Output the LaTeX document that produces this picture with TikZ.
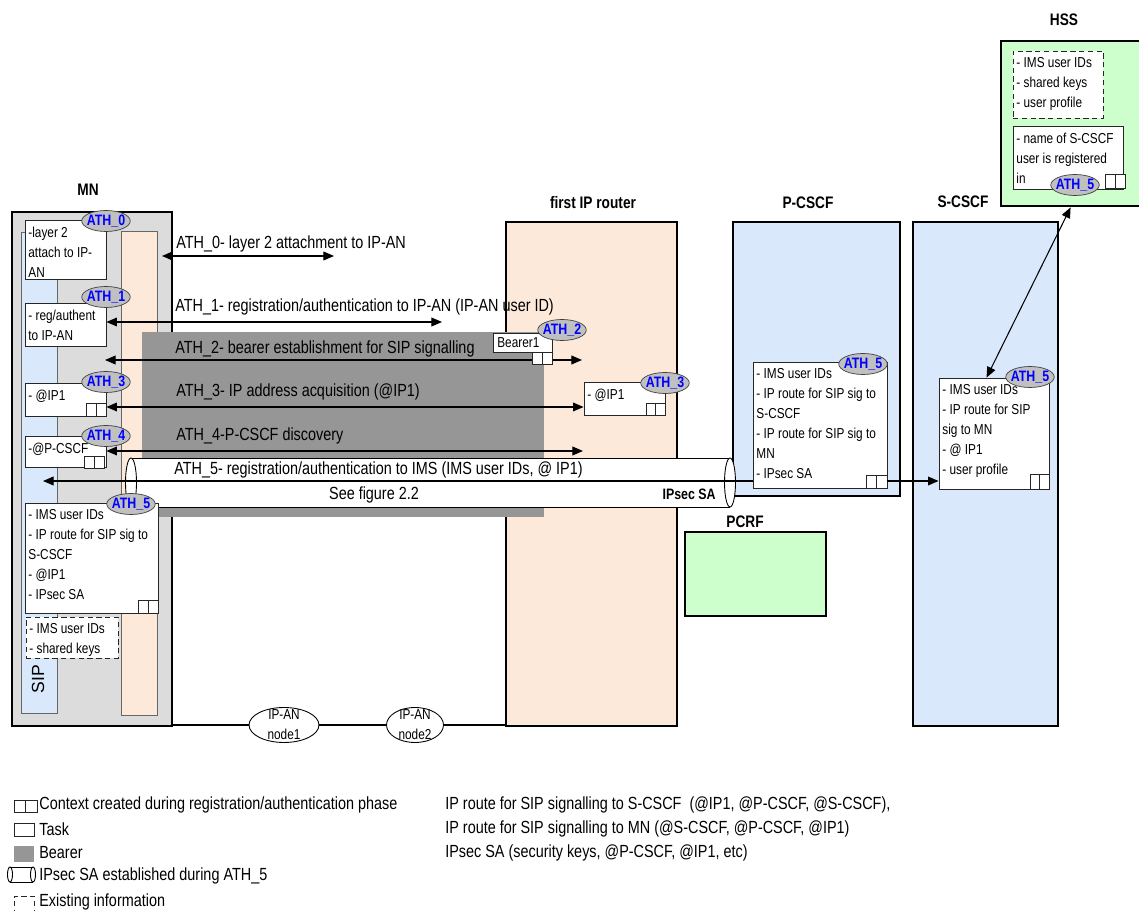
\documentclass[tikz,border=0pt]{standalone}
\usepackage{fontspec}
\setmainfont[FakeStretch=0.82]{Liberation Sans}
\newfontfamily\plainsans{Liberation Sans}
\usetikzlibrary{arrows.meta, positioning, shapes.geometric, fit, calc}
\definecolor{mngray}{HTML}{DCDCDC}
\definecolor{peach}{HTML}{FDE9D9}
\definecolor{imsblue}{HTML}{DAE8FC}
\definecolor{hssgreen}{HTML}{CCFFCC}
\definecolor{bearergray}{HTML}{969696}
\definecolor{athgray}{HTML}{C0C0C0}
\newcommand{\txtsmall}{\fontsize{8.2}{11.3}\selectfont}
\newcommand{\txtflow}{\fontsize{10}{12}\selectfont}
\newcommand{\txthead}{\fontsize{9.5}{11}\selectfont\bfseries}
\newcommand{\txtath}{\fontsize{8.6}{9}\selectfont\bfseries}
\newcommand{\txtsip}{\plainsans\fontsize{10}{12}\selectfont}

\begin{document}
\begin{tikzpicture}[
    x=0.02cm, y=-0.02cm,
    entity/.style={draw=black, line width=1.6pt, inner sep=0pt},
    stripe/.style={draw=black!60, line width=0.4pt, inner sep=0pt},
    heading/.style={font=\txthead, inner sep=0pt},
    task/.style={draw=black!85, fill=white, line width=0.5pt, inner sep=0pt},
    existing/.style={task, dash pattern=on 3pt off 2pt},
    boxtext/.style={font=\txtsmall, align=left, anchor=north west, inner xsep=2pt, inner ysep=4pt},
    ctx/.style={draw=black!85, fill=white, line width=0.5pt, inner sep=0pt,
        path picture={\draw[black!85, line width=0.5pt] (path picture bounding box.north) -- (path picture bounding box.south);}},
    ath/.style={ellipse, draw=black!75, fill=athgray, text=blue, font=\txtath,
        inner xsep=-1.5pt, inner ysep=-1pt, minimum width=0.97cm, minimum height=0.42cm},
    flowlabel/.style={font=\txtflow, anchor=west, inner sep=0pt},
    flow/.style={line width=0.6pt, -{Triangle[length=6pt, width=5pt]}},
    biflow/.style={line width=0.6pt, {Triangle[length=6pt, width=5pt]}-{Triangle[length=6pt, width=5pt]}},
    ipan/.style={ellipse, draw, fill=white, line width=0.5pt, font=\txtsmall, align=center,
        inner sep=-4pt, minimum height=0.7cm}
]
\useasboundingbox (0,0) rectangle (1139,911);

% entities
\node[entity, fill=mngray, fit={(12,212) (172,726)}] (mn) {};
\node[entity, fill=peach, fit={(506,222) (677,726)}] (rt) {};
\node[entity, fill=imsblue, fit={(733,222) (900,496)}] (pcscf) {};
\node[entity, fill=imsblue, fit={(913,222) (1058,726)}] (scscf) {};
\node[entity, fill=hssgreen, fit={(1001,41) (1170,206)}] (hss) {};
\node[entity, fill=hssgreen, fit={(685,532) (826,616)}] (pcrf) {};

\node[heading] (mnlbl) at (88,190) {MN};
\node[heading] (rtlbl) at (593,203) {first IP router};
\node[heading] (pcscflbl) at (808,203) {P-CSCF};
\node[heading] (scscflbl) at (963,202) {S-CSCF};
\node[heading] (hsslbl) at (1064,20) {HSS};
\node[heading] (pcrflbl) at (745,522) {PCRF};

\node[stripe, fill=imsblue, fit={(21,232) (57,713)}] (sip) {};
\node[stripe, fill=peach, fit={(121,231) (157,715)}] (mnip) {};
\node[rotate=90, font=\txtsip] (siplbl) at (38,679) {SIP};

% bearer and IPsec SA
\node[fill=bearergray, inner sep=0pt, fit={(142,332) (544,517)}] (bearer) {};
\fill[white] (131,458) rectangle (730,507);
\draw[line width=0.5pt] (131,458) -- (730,458) (131,507) -- (730,507);
\draw[line width=0.5pt, fill=white] (131,482.5) ellipse [x radius=5.5, y radius=24.5];
\draw[line width=0.5pt, fill=white] (730,482.5) ellipse [x radius=5.5, y radius=24.5];

\coordinate (a2l) at (105,360);
\coordinate (a2r) at (582,360);
\draw[biflow] (a2l) -- (a2r);
\node[flowlabel] (a2txt) at (175,349) {ATH\_2- bearer establishment for SIP signalling};

% MN tasks
\node[task, fit={(25,220) (106,279)}] (mnt0) {};
\node[boxtext] (mnt0txt) at (mnt0.north west) {-layer 2\\attach to IP-\\AN};
\node[ath] (mnt0lbl) at (106,221) {ATH\_0};

\node[task, fit={(25,303) (106,346)}] (mnt1) {};
\node[boxtext] (mnt1txt) at (mnt1.north west) {- reg/authent\\to IP-AN};
\node[ath] (mnt1lbl) at (106,297) {ATH\_1};

\node[task, fit={(25,383) (106,416)}] (mnt3) {};
\node[boxtext] (mnt3txt) at (mnt3.north west) {- @IP1};
\node[ctx, fit={(86,403) (106,416)}] (mnt3ctx) {};
\node[ath] (mnt3lbl) at (106,382) {ATH\_3};

\node[task, fit={(25,436) (106,467)}] (mnt4) {};
\node[boxtext] (mnt4txt) at (mnt4.north west) {-@P-CSCF};
\node[ctx, fit={(84,456) (104,468)}] (mnt4ctx) {};
\node[ath] (mnt4lbl) at (106,436) {ATH\_4};

\node[task, fit={(25,503) (158,613)}] (mnt5) {};
\node[boxtext] (mnt5txt) at (mnt5.north west) {- IMS user IDs\\- IP route for SIP sig to\\S-CSCF\\- @IP1\\- IPsec SA};
\node[ctx, fit={(138,600) (158,613)}] (mnt5ctx) {};
\node[ath] (mnt5lbl) at (131,504) {ATH\_5};

\node[existing, fit={(26,617) (118,658)}] (mnkeys) {};
\node[boxtext] (mnkeystxt) at (mnkeys.north west) {- IMS user IDs\\- shared keys};

% router tasks
\node[task, fit={(493,333) (552,352)}] (bearer1) {};
\node[font=\txtsmall, anchor=west, inner sep=0pt] (bearer1txt) at (497,343) {Bearer1};
\node[ctx, fit={(532,352) (552,364)}] (bearer1ctx) {};
\node[ath] (bearer1lbl) at (562,330) {ATH\_2};

\node[task, fit={(584,382) (665,415)}] (rtt3) {};
\node[boxtext] (rtt3txt) at (rtt3.north west) {- @IP1};
\node[ctx, fit={(646,403) (665,415)}] (rtt3ctx) {};
\node[ath] (rtt3lbl) at (665,383) {ATH\_3};

% P-CSCF, S-CSCF, HSS tasks
\node[task, fit={(753,362) (887,488)}] (pct5) {};
\node[boxtext] (pct5txt) at (pct5.north west) {- IMS user IDs\\- IP route for SIP sig to\\S-CSCF\\- IP route for SIP sig to\\MN\\- IPsec SA};
\node[ctx, fit={(866,475) (887,488)}] (pct5ctx) {};
\node[ath] (pct5lbl) at (863,364) {ATH\_5};

\node[task, fit={(939,378) (1049,489)}] (sct5) {};
\node[boxtext] (sct5txt) at (sct5.north west) {- IMS user IDs\\- IP route for SIP\\sig to MN\\- @ IP1\\- user profile};
\node[ctx, fit={(1030,474) (1049,489)}] (sct5ctx) {};
\node[ath] (sct5lbl) at (1030,377) {ATH\_5};

\node[existing, fit={(1013,51) (1103,118)}] (hsskeys) {};
\node[boxtext] (hsskeystxt) at (hsskeys.north west) {- IMS user IDs\\- shared keys\\- user profile};
\node[task, fit={(1013,126) (1123,189)}] (hsst5) {};
\node[boxtext] (hsst5txt) at (hsst5.north west) {- name of S-CSCF\\user is registered\\in};
\node[ctx, fit={(1105,174) (1125,188)}] (hsst5ctx) {};
\node[ath] (hsst5lbl) at (1075,185) {ATH\_5};

% flows
\coordinate (a0l) at (162,256);
\coordinate (a0r) at (334,256);
\draw[biflow] (a0l) -- (a0r);
\node[flowlabel] (a0txt) at (176,244) {ATH\_0- layer 2 attachment to IP-AN};

\coordinate (a1r) at (442,322);
\draw[biflow] (mnt1.east |- a1r) -- (a1r);
\node[flowlabel] (a1txt) at (175,307) {ATH\_1- registration/authentication to IP-AN (IP-AN user ID)};

\coordinate (a3) at (300,407);
\draw[biflow] (mnt3.east |- a3) -- (rtt3.west |- a3);
\node[flowlabel] (a3txt) at (176,392) {ATH\_3- IP address acquisition (@IP1)};

\coordinate (a4r) at (583,451);
\draw[biflow] (mnt4.east |- a4r) -- (a4r);
\node[flowlabel] (a4txt) at (176,436) {ATH\_4-P-CSCF discovery};

\coordinate (a5) at (43,481);
\draw[flow] (pct5.west |- a5) -- (a5);
\draw[flow] (pct5.east |- a5) -- (sct5.west |- a5);
\node[flowlabel] (a5txt) at (174,470) {ATH\_5- registration/authentication to IMS (IMS user IDs, @ IP1)};
\node[font=\txtflow, inner sep=0pt] (seefig) at (374,495) {See figure 2.2};
\node[font=\txtath, anchor=east, inner sep=0pt] (ipsec) at (716,494) {IPsec SA};

\draw[biflow] ($(sct5.north west)+(48,0)$) -- ($(hss.south west)+(71,0)$);

% IP-AN
\node[ipan, minimum width=1.4cm] (node1) at (284,725) {IP-AN\\node1};
\node[ipan, minimum width=1.14cm] (node2) at (415,725) {IP-AN\\node2};
\draw[line width=0.6pt] (mn.east |- node1) -- (node1) -- (node2) -- (rt.west |- node2);

% legend
\node[ctx, fit={(14,800) (37,812)}] (lgctx) {};
\node[flowlabel] (lgctxtxt) at (39,805) {Context created during registration/authentication phase};
\node[task, fit={(14,823) (34,836)}] (lgtask) {};
\node[flowlabel] (lgtasktxt) at (39,829) {Task};
\node[fill=bearergray, inner sep=0pt, fit={(14,846) (34,862)}] (lgbearer) {};
\node[flowlabel] (lgbearertxt) at (39,853) {Bearer};
\draw[line width=0.5pt] (10,867) -- (33,867) (10,882) -- (33,882);
\draw[line width=0.5pt, fill=white] (10,874.5) ellipse [x radius=2.5, y radius=7.5];
\draw[line width=0.5pt] (33,874.5) ellipse [x radius=2.5, y radius=7.5];
\node[flowlabel] (lgtubetxt) at (39,876) {IPsec SA established during ATH\_5};
\node[existing, fill=none, fit={(14,896) (34,930)}] (lgexist) {};
\node[flowlabel] (lgexisttxt) at (39,902) {Existing information};

\node[flowlabel] (rte1) at (445,805) {IP route for SIP signalling to S-CSCF\ \ (@IP1, @P-CSCF, @S-CSCF),};
\node[flowlabel] (rte2) at (445,829) {IP route for SIP signalling to MN (@S-CSCF, @P-CSCF, @IP1)};
\node[flowlabel] (rte3) at (445,853) {IPsec SA (security keys, @P-CSCF, @IP1, etc)};

\end{tikzpicture}
\end{document}
